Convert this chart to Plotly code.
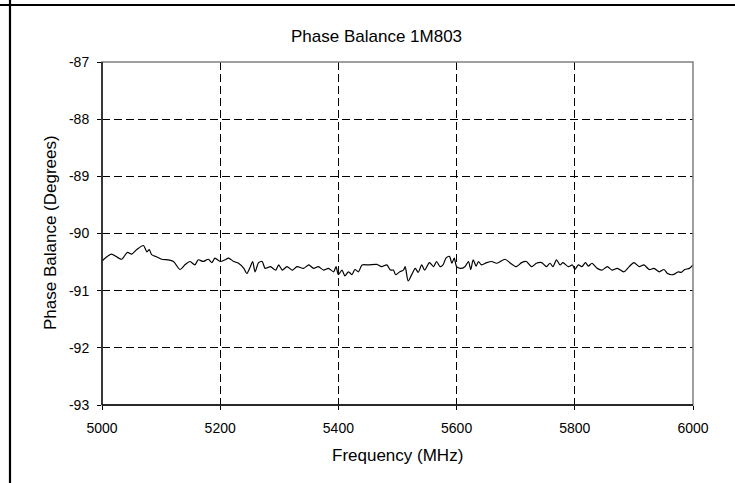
import plotly.graph_objects as go

# Data
freq_mhz = [5000, 5016, 5033, 5043, 5050, 5059, 5070, 5076, 5080, 5084, 5093, 5101, 5112, 5121,
            5132, 5140, 5149, 5157, 5163, 5171, 5180, 5186, 5191, 5200, 5208, 5214, 5223, 5231,
            5240, 5245, 5251, 5255, 5259, 5265, 5271, 5276, 5285, 5294, 5299, 5305, 5313, 5322,
            5330, 5341, 5350, 5358, 5366, 5375, 5383, 5392, 5396, 5400, 5406, 5411, 5417, 5423,
            5428, 5434, 5440, 5451, 5465, 5473, 5482, 5488, 5493, 5497, 5504, 5510, 5513, 5518,
            5524, 5530, 5535, 5541, 5546, 5554, 5561, 5566, 5572, 5577, 5582, 5588, 5592, 5596,
            5600, 5606, 5614, 5620, 5624, 5628, 5633, 5637, 5642, 5651, 5659, 5668, 5682, 5690,
            5701, 5710, 5718, 5727, 5735, 5744, 5752, 5758, 5763, 5769, 5775, 5780, 5789, 5796,
            5800, 5806, 5812, 5818, 5823, 5829, 5838, 5846, 5855, 5863, 5872, 5883, 5892, 5900,
            5909, 5917, 5926, 5934, 5943, 5951, 5957, 5966, 5975, 5980, 5986, 5994, 6000]
phase_deg = [-90.48, -90.36, -90.45, -90.33, -90.36, -90.28, -90.21, -90.32, -90.28, -90.37, -90.41,
             -90.45, -90.46, -90.49, -90.63, -90.55, -90.49, -90.55, -90.46, -90.49, -90.45, -90.51,
             -90.43, -90.49, -90.46, -90.43, -90.49, -90.52, -90.61, -90.70, -90.58, -90.49, -90.67,
             -90.51, -90.49, -90.61, -90.58, -90.64, -90.55, -90.64, -90.58, -90.64, -90.58, -90.61,
             -90.55, -90.61, -90.58, -90.64, -90.61, -90.67, -90.58, -90.72, -90.64, -90.74, -90.67,
             -90.72, -90.63, -90.67, -90.55, -90.55, -90.54, -90.58, -90.55, -90.64, -90.64, -90.72,
             -90.67, -90.64, -90.58, -90.83, -90.72, -90.61, -90.68, -90.55, -90.64, -90.51, -90.58,
             -90.49, -90.58, -90.55, -90.43, -90.40, -90.52, -90.43, -90.58, -90.61, -90.58, -90.49,
             -90.63, -90.46, -90.57, -90.49, -90.55, -90.51, -90.49, -90.52, -90.45, -90.51, -90.58,
             -90.51, -90.49, -90.58, -90.52, -90.51, -90.58, -90.52, -90.58, -90.46, -90.55, -90.51,
             -90.58, -90.55, -90.63, -90.55, -90.58, -90.51, -90.57, -90.52, -90.61, -90.64, -90.58,
             -90.64, -90.61, -90.67, -90.58, -90.51, -90.58, -90.55, -90.63, -90.61, -90.67, -90.63,
             -90.70, -90.72, -90.67, -90.68, -90.63, -90.61, -90.55]
x_ticks = [5000, 5200, 5400, 5600, 5800, 6000]
x_tick_labels = ["5000", "5200", "5400", "5600", "5800", "6000"]
y_ticks = [-93, -92, -91, -90, -89, -88, -87]
y_tick_labels = ["-93", "-92", "-91", "-90", "-89", "-88", "-87"]

W, H = 735, 483
L, R, T, B = 102, 693, 62, 405
pw, ph = R - L, B - T


def px_x(p):
    return (p - L) / pw


def px_y(p):
    return (B - p) / ph


FONT = "Liberation Sans, Arial, sans-serif"

fig = go.Figure()
fig.add_trace(go.Scatter(
    x=freq_mhz, y=phase_deg, mode="lines",
    line=dict(color="black", width=1.2, shape="spline", smoothing=0.7),
    showlegend=False, hoverinfo="skip",
))

axis_common = dict(
    showgrid=True, gridcolor="black", gridwidth=1, griddash="8px,4px",
    zeroline=False, showline=False,
    ticks="outside", ticklen=4, tickcolor="black", tickwidth=1,
    tickfont=dict(family=FONT, size=14, color="black"),
)

fig.update_xaxes(range=[5000, 6000], tickvals=x_ticks, ticktext=x_tick_labels,
                 ticklabelstandoff=6, **axis_common)
fig.update_yaxes(range=[-93, -87], tickvals=y_ticks, ticktext=y_tick_labels,
                 ticklabelstandoff=5, **axis_common)

shapes = [
    dict(type="rect", xref="paper", yref="paper", x0=0, x1=1, y0=0, y1=1,
         line=dict(color="#808080", width=1.5), layer="above"),
    dict(type="line", xref="paper", yref="paper", x0=0, x1=0, y0=0, y1=1,
         line=dict(color="black", width=1.3), layer="above"),
    dict(type="line", xref="paper", yref="paper", x0=0, x1=1, y0=0, y1=0,
         line=dict(color="black", width=1.3), layer="above"),
    dict(type="line", xref="paper", yref="paper", x0=px_x(0), x1=px_x(W), y0=px_y(5), y1=px_y(5),
         line=dict(color="black", width=2.2), layer="above"),
    dict(type="line", xref="paper", yref="paper", x0=px_x(10), x1=px_x(10), y0=px_y(0), y1=px_y(H),
         line=dict(color="black", width=2.2), layer="above"),
]

annotations = [
    dict(text="Phase Balance 1M803", xref="paper", yref="paper", x=px_x(376), y=px_y(36),
         xanchor="center", yanchor="middle", showarrow=False,
         font=dict(family=FONT, size=17, color="black")),
    dict(text="Frequency (MHz)", xref="paper", yref="paper", x=px_x(397), y=px_y(456),
         xanchor="center", yanchor="middle", showarrow=False,
         font=dict(family=FONT, size=17, color="black")),
    dict(text="Phase Balance (Degrees)", xref="paper", yref="paper", x=px_x(51), y=px_y(233),
         xanchor="center", yanchor="middle", showarrow=False, textangle=-90,
         font=dict(family=FONT, size=17, color="black")),
]

fig.update_layout(
    width=W, height=H,
    margin=dict(l=L, r=W - R, t=T, b=H - B),
    paper_bgcolor="white", plot_bgcolor="white",
    shapes=shapes, annotations=annotations,
    font=dict(family=FONT, color="black"),
)

fig.write_html("out.html", config={"displayModeBar": False, "staticPlot": True},
               post_script="document.body.style.margin='0';document.body.style.padding='0';")
